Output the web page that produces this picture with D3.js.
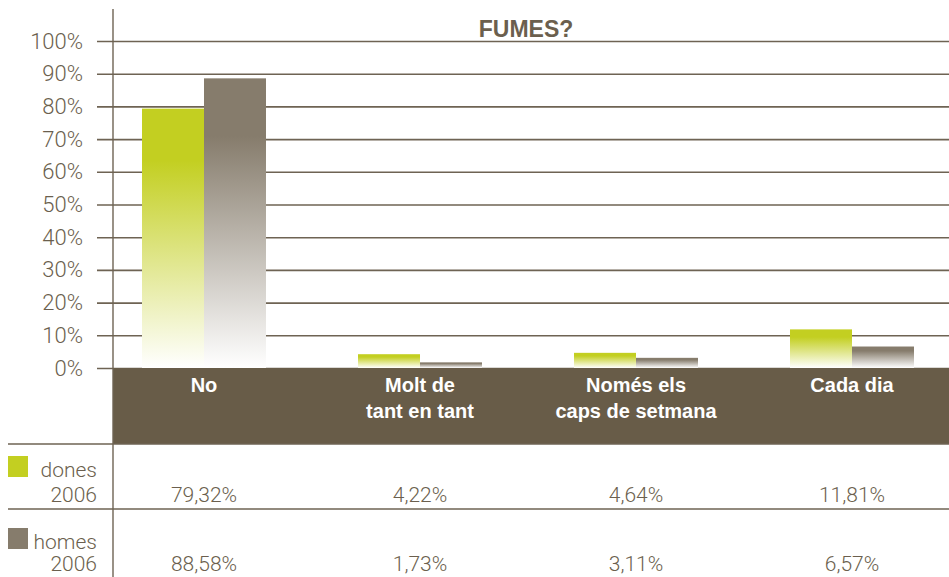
<!DOCTYPE html>
<html><head><meta charset="utf-8">
<script src="https://cdn.jsdelivr.net/npm/d3@7"></script>
<style>
html,body{margin:0;padding:0;background:#fff;}
svg{display:block;}
</style></head>
<body>
<svg id="chart" width="949" height="577"></svg>
<script>
const title = "FUMES?";
const categories = [["No"], ["Molt de", "tant en tant"], ["Només els", "caps de setmana"], ["Cada dia"]];
const seriesNames = ["dones", "homes"];
const seriesYear = "2006";
const dones = [79.32, 4.22, 4.64, 11.81];
const homes = [88.58, 1.73, 3.11, 6.57];
const doneLabels = ["79,32%", "4,22%", "4,64%", "11,81%"];
const homeLabels = ["88,58%", "1,73%", "3,11%", "6,57%"];
const yTicks = [0, 10, 20, 30, 40, 50, 60, 70, 80, 90, 100];

const W = 949, H = 577;
const textCol = "#6b5f4e", gridCol = "#6e6353", bandCol = "#685c48";
const colors = ["#c3cf21", "#867c6c"];
const lightFont = "Roboto, 'Liberation Sans', sans-serif";
const boldFont = "'Liberation Sans', Arial, sans-serif";

const svg = d3.select("#chart");
const defs = svg.append("defs");
colors.forEach((c, i) => {
  const g = defs.append("linearGradient").attr("id", "grad" + i)
    .attr("x1", 0).attr("y1", 0).attr("x2", 0).attr("y2", 1);
  g.append("stop").attr("offset", 0).attr("stop-color", c);
  g.append("stop").attr("offset", 0.2).attr("stop-color", c);
  g.append("stop").attr("offset", 1).attr("stop-color", "#ffffff");
});

const y = d3.scaleLinear().domain([0, 100]).range([368, 41]);
const x = d3.scaleBand().domain(d3.range(categories.length)).range([96, 960])
  .paddingInner(0.426).paddingOuter(0.213);
const xs = d3.scaleBand().domain([0, 1]).range([0, x.bandwidth()]);

// grid + y axis
const axis = svg.append("g").attr("transform", "translate(97,0)")
  .call(d3.axisLeft(y).tickValues(yTicks).tickSize(-(W - 97)).tickPadding(14)
    .tickFormat(d => d + "%"));
axis.select(".domain").remove();
axis.selectAll(".tick line").attr("stroke", gridCol).attr("stroke-width", 1.6);
axis.selectAll(".tick text").attr("fill", textCol).attr("font-size", 22)
  .attr("font-family", lightFont).attr("font-weight", 300);

// title
svg.append("text").attr("x", 526).attr("y", 37).attr("text-anchor", "middle")
  .attr("font-family", boldFont).attr("font-weight", "bold").attr("font-size", 23)
  .attr("fill", textCol).text(title);

// bars
[dones, homes].forEach((vals, si) => {
  svg.append("g").selectAll("rect").data(vals).join("rect")
    .attr("x", (d, i) => x(i) + xs(si))
    .attr("width", xs.bandwidth())
    .attr("y", d => y(d))
    .attr("height", d => y(0) - y(d))
    .attr("fill", `url(#grad${si})`);
});

// category band
svg.append("rect").attr("x", 113).attr("y", 368).attr("width", W - 113).attr("height", 76)
  .attr("fill", bandCol);
const cats = svg.append("g").selectAll("text").data(categories).join("text")
  .attr("x", (d, i) => x(i) + x.bandwidth() / 2)
  .attr("y", 392)
  .attr("text-anchor", "middle").attr("fill", "#ffffff")
  .attr("font-family", boldFont).attr("font-weight", "bold").attr("font-size", 20);
cats.each(function(lines, i) {
  d3.select(this).selectAll("tspan").data(lines).join("tspan")
    .attr("x", x(i) + x.bandwidth() / 2)
    .attr("dy", (d, j) => j === 0 ? 0 : 26)
    .text(d => d);
});

// table lines
svg.append("line").attr("x1", 8).attr("x2", W).attr("y1", 444).attr("y2", 444)
  .attr("stroke", gridCol).attr("stroke-width", 1.4);
svg.append("line").attr("x1", 8).attr("x2", W).attr("y1", 509).attr("y2", 509)
  .attr("stroke", gridCol).attr("stroke-width", 1.4);
// vertical axis line
svg.append("line").attr("x1", 113).attr("x2", 113).attr("y1", 9).attr("y2", H)
  .attr("stroke", gridCol).attr("stroke-width", 1.4);

// table rows
const rowTop = [456, 528];
const lineGap = [46, 43];
[doneLabels, homeLabels].forEach((labels, si) => {
  const t = rowTop[si];
  const base2 = t + lineGap[si];
  svg.append("rect").attr("x", 8).attr("y", t).attr("width", 20).attr("height", 21)
    .attr("fill", colors[si]);
  svg.append("text").attr("x", 97).attr("y", t + 21).attr("text-anchor", "end")
    .attr("font-family", lightFont).attr("font-weight", 300).attr("font-size", 21)
    .attr("fill", textCol).text(seriesNames[si]);
  svg.append("text").attr("x", 97).attr("y", base2).attr("text-anchor", "end")
    .attr("font-family", lightFont).attr("font-weight", 300).attr("font-size", 21)
    .attr("fill", textCol).text(seriesYear);
  svg.append("g").selectAll("text").data(labels).join("text")
    .attr("x", (d, i) => x(i) + x.bandwidth() / 2)
    .attr("y", base2).attr("text-anchor", "middle")
    .attr("font-family", lightFont).attr("font-weight", 300).attr("font-size", 21)
    .attr("fill", textCol).text(d => d);
});
</script>
</body></html>
